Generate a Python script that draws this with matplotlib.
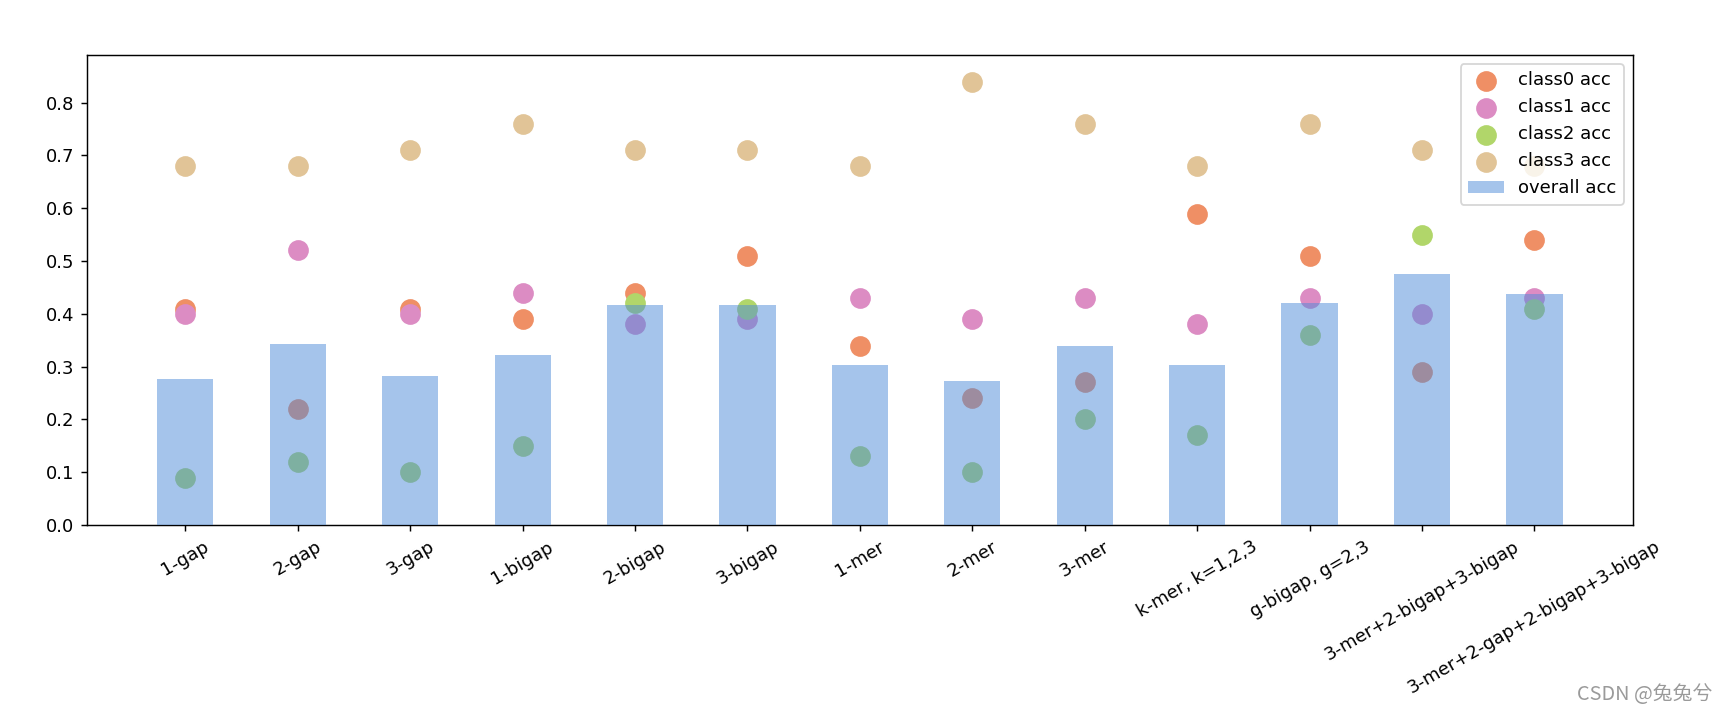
import matplotlib
matplotlib.use('Agg')
import matplotlib.pyplot as plt
import numpy as np

# feature sets on the x axis
features = ['1-gap', '2-gap', '3-gap', '1-bigap', '2-bigap', '3-bigap', '1-mer', '2-mer', '3-mer',
            'k-mer, k=1,2,3', 'g-bigap, g=2,3', '3-mer+2-bigap+3-bigap', '3-mer+2-gap+2-bigap+3-bigap']

overall_acc = [0.276, 0.342, 0.283, 0.322, 0.417, 0.417, 0.303, 0.273, 0.339, 0.303, 0.420, 0.476, 0.437]
class0_acc = [0.41, 0.22, 0.41, 0.39, 0.44, 0.51, 0.34, 0.24, 0.27, 0.59, 0.51, 0.29, 0.54]
class1_acc = [0.40, 0.52, 0.40, 0.44, 0.38, 0.39, 0.43, 0.39, 0.43, 0.38, 0.43, 0.40, 0.43]
class2_acc = [0.09, 0.12, 0.10, 0.15, 0.42, 0.41, 0.13, 0.10, 0.20, 0.17, 0.36, 0.55, 0.41]
class3_acc = [0.68, 0.68, 0.71, 0.76, 0.71, 0.71, 0.68, 0.84, 0.76, 0.68, 0.76, 0.71, 0.68]

class_acc = [class0_acc, class1_acc, class2_acc, class3_acc]
class_colors = ['#ef8f65', '#dc8cc3', '#b1d66a', '#e1c497']

fig = plt.figure(figsize=(1726 / 130, 712 / 130), dpi=130)
ax = fig.add_axes([0.0504, 0.2626, 0.8956, 0.66])

x = np.arange(len(features))
for i, acc in enumerate(class_acc):
    ax.scatter(x, acc, s=110, color=class_colors[i], label='class{} acc'.format(i), zorder=2)

# bars go on top of the points, half transparent
ax.bar(x, overall_acc, width=0.5, color='#4d8bd9', alpha=0.5, label='overall acc', zorder=3)

ax.set_ylim(0, 0.89)
ax.set_xticks(x)
ax.set_xticklabels(features, rotation=30)
ax.legend(loc='upper right')

fig.text(0.992, 0.025, 'CSDN @兔兔兮', ha='right', va='center', fontsize=11, color='#9a9a9a',
         family=['Noto Sans CJK SC', 'DejaVu Sans'])

plt.savefig('out.png', dpi=130, facecolor='white')
plt.close('all')
